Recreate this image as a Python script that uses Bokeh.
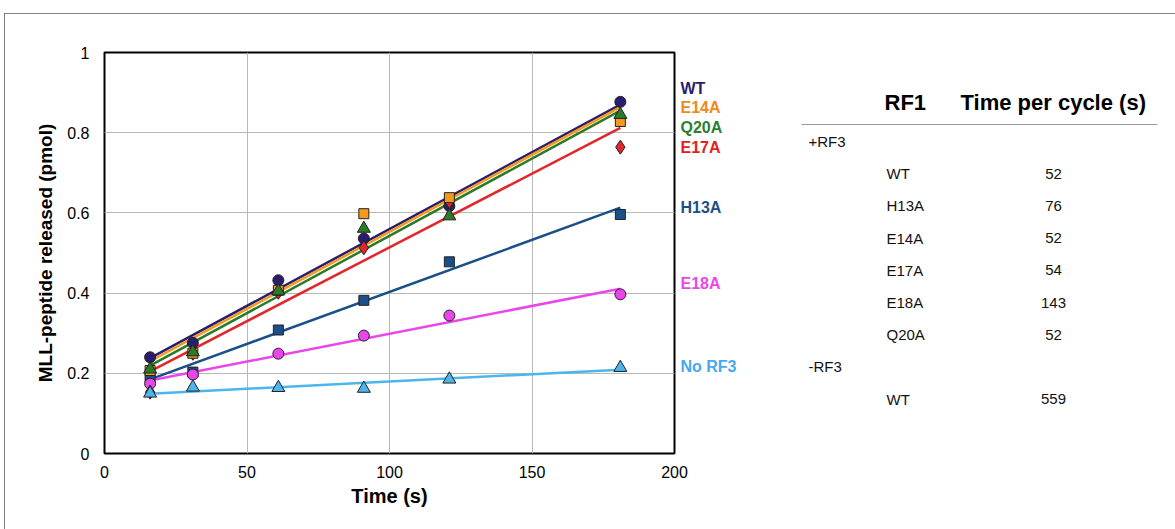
from bokeh.plotting import figure
from bokeh.layouts import row
from bokeh.models import Range1d, FixedTicker
from bokeh.core.properties import value
from bokeh.embed import file_html
from bokeh.resources import INLINE

# ---------------- data ----------------
time_s = [16, 31, 61, 91, 121, 181]
series_names = ["WT", "E14A", "Q20A", "E17A", "H13A", "E18A", "No RF3"]
wt = [0.240, 0.276, 0.432, 0.536, 0.617, 0.877]
e14a = [0.207, 0.250, 0.407, 0.598, 0.638, 0.828]
q20a = [0.210, 0.253, 0.405, 0.561, 0.592, 0.845]
e17a = [0.153, 0.250, 0.402, 0.513, 0.628, 0.764]
h13a = [0.190, 0.203, 0.308, 0.382, 0.478, 0.596]
e18a = [0.174, 0.197, 0.249, 0.294, 0.344, 0.397]
no_rf3 = [0.150, 0.165, 0.164, 0.162, 0.185, 0.214]

# fitted lines: value at first and last time point
fit_time = [16, 181]
fit_start = {"WT": 0.238, "E14A": 0.230, "Q20A": 0.219, "E17A": 0.205,
             "H13A": 0.185, "E18A": 0.182, "No RF3": 0.149}
fit_end = {"WT": 0.870, "E14A": 0.864, "Q20A": 0.855, "E17A": 0.812,
           "H13A": 0.613, "E18A": 0.411, "No RF3": 0.209}

x_ticks = [0, 50, 100, 150, 200]
y_ticks = [0, 0.2, 0.4, 0.6, 0.8, 1.0]
y_tick_labels = ["0", "0.2", "0.4", "0.6", "0.8", "1"]

# table data
table_headers = ["RF1", "Time per cycle (s)"]
plus_rf3_variants = ["WT", "H13A", "E14A", "E17A", "E18A", "Q20A"]
plus_rf3_times = [52, 76, 52, 54, 143, 52]
minus_rf3_variants = ["WT"]
minus_rf3_times = [559]

values = {"WT": wt, "E14A": e14a, "Q20A": q20a, "E17A": e17a,
          "H13A": h13a, "E18A": e18a, "No RF3": no_rf3}
colors = {"WT": "#2b1d6e", "E14A": "#f39a1e", "Q20A": "#2a7a2a",
          "E17A": "#e3262b", "H13A": "#1a4f8a", "E18A": "#ea45ea",
          "No RF3": "#4bb5ec"}
label_colors = {"WT": "#2b1d6e", "E14A": "#ef8a1a", "Q20A": "#2e7d32",
                "E17A": "#e32020", "H13A": "#1c4f8a", "E18A": "#ee44ee",
                "No RF3": "#45a8f0"}
markers = {"WT": "circle", "E14A": "square", "Q20A": "triangle",
           "E17A": "diamond", "H13A": "square", "E18A": "circle",
           "No RF3": "triangle"}
sizes = {"circle": 11, "square": 10, "triangle": 13, "diamond": 14}

FONT = "Liberation Sans"

# ---------------- main chart ----------------
p = figure(width=700, height=529, x_range=Range1d(0, 200), y_range=Range1d(0, 1),
           output_backend="svg", toolbar_location=None,
           min_border_left=104, min_border_right=26, min_border_top=52,
           min_border_bottom=76)
p.border_fill_color = None
p.outline_line_color = "black"
p.outline_line_width = 2
p.xaxis.ticker = FixedTicker(ticks=x_ticks)
p.yaxis.ticker = FixedTicker(ticks=y_ticks)
p.yaxis.major_label_overrides = dict(zip(y_ticks, y_tick_labels))
for ax in (p.xaxis, p.yaxis):
    ax.axis_line_color = None
    ax.major_tick_line_color = None
    ax.minor_tick_line_color = None
    ax.major_label_text_font = FONT
    ax.major_label_text_font_size = "16px"
    ax.major_label_text_color = "black"
    ax.axis_label_text_font = FONT
    ax.axis_label_text_font_style = "bold"
    ax.axis_label_text_color = "black"
p.xaxis.axis_label = "Time (s)"
p.yaxis.axis_label = "MLL-peptide released (pmol)"
p.xaxis.axis_label_text_font_size = "20px"
p.yaxis.axis_label_text_font_size = "19px"
p.xaxis.major_label_standoff = 6
p.yaxis.major_label_standoff = 9
p.xaxis.axis_label_standoff = 4
p.yaxis.axis_label_standoff = 8
p.grid.grid_line_color = "#b8b8b8"
p.grid.grid_line_width = 1

for name in series_names:
    p.line(fit_time, [fit_start[name], fit_end[name]], line_color=colors[name],
           line_width=2.5)

for name in ["WT", "H13A", "E18A", "E17A", "E14A", "Q20A", "No RF3"]:
    m = markers[name]
    p.scatter(time_s, values[name], marker=m, size=sizes[m],
              fill_color=colors[name], line_color="#222222", line_width=1)

# ---------------- series labels + table (second panel, overlapping margin) ----------------
t = figure(width=499, height=529, x_range=Range1d(676, 1175), y_range=Range1d(453, 52),
           output_backend="svg", toolbar_location=None,
           x_axis_location=None, y_axis_location=None,
           min_border=0)
t.margin = (0, 0, 0, -24)
t.grid.visible = False
t.outline_line_color = None
t.border_fill_color = None
t.background_fill_color = None

# series labels at the right of the chart (pixel rows)
series_label_y = [88, 107, 127, 147, 207, 283, 366]
t.text(x=[680] * len(series_names), y=series_label_y, text=series_names,
       text_color=[label_colors[n] for n in series_names],
       text_font=value(FONT), text_font_style="bold", text_font_size="16px",
       text_baseline="middle")

t.text(x=[884, 960], y=[102, 102], text=table_headers,
       text_font=value(FONT), text_font_style="bold", text_font_size="22px",
       text_baseline="middle", text_color="black")
t.segment(x0=[801], y0=[124], x1=[1157], y1=[124], line_color="#999999", line_width=1)

row_y0, row_dy = 141, 32.2
k = 0
groups = [("+RF3", plus_rf3_variants, plus_rf3_times),
          ("-RF3", minus_rf3_variants, minus_rf3_times)]
gx, gy, gt = [], [], []
nx, ny, nt = [], [], []
vx, vy, vt = [], [], []
for gname, variants, times in groups:
    gx.append(808); gy.append(row_y0 + row_dy * k); gt.append(gname)
    k += 1
    for v, tm in zip(variants, times):
        nx.append(886); ny.append(row_y0 + row_dy * k); nt.append(v)
        vx.append(1053); vy.append(row_y0 + row_dy * k); vt.append(str(tm))
        k += 1

common = dict(text_font=value(FONT), text_font_size="15px",
              text_baseline="middle", text_color="#111111")
t.text(x=gx, y=gy, text=gt, **common)
t.text(x=nx, y=ny, text=nt, **common)
t.text(x=vx, y=vy, text=vt, text_align="center", **common)

layout = row(p, t)
# thin panel frame (top and left edges) drawn as CSS background of the row
layout.styles = {
    "background": "linear-gradient(#808080, #808080) 4px 13px / 100% 1px no-repeat, "
                  "linear-gradient(#808080, #808080) 4px 13px / 1px 100% no-repeat, white"
}
open("out.html", "w").write(file_html(layout, INLINE))
